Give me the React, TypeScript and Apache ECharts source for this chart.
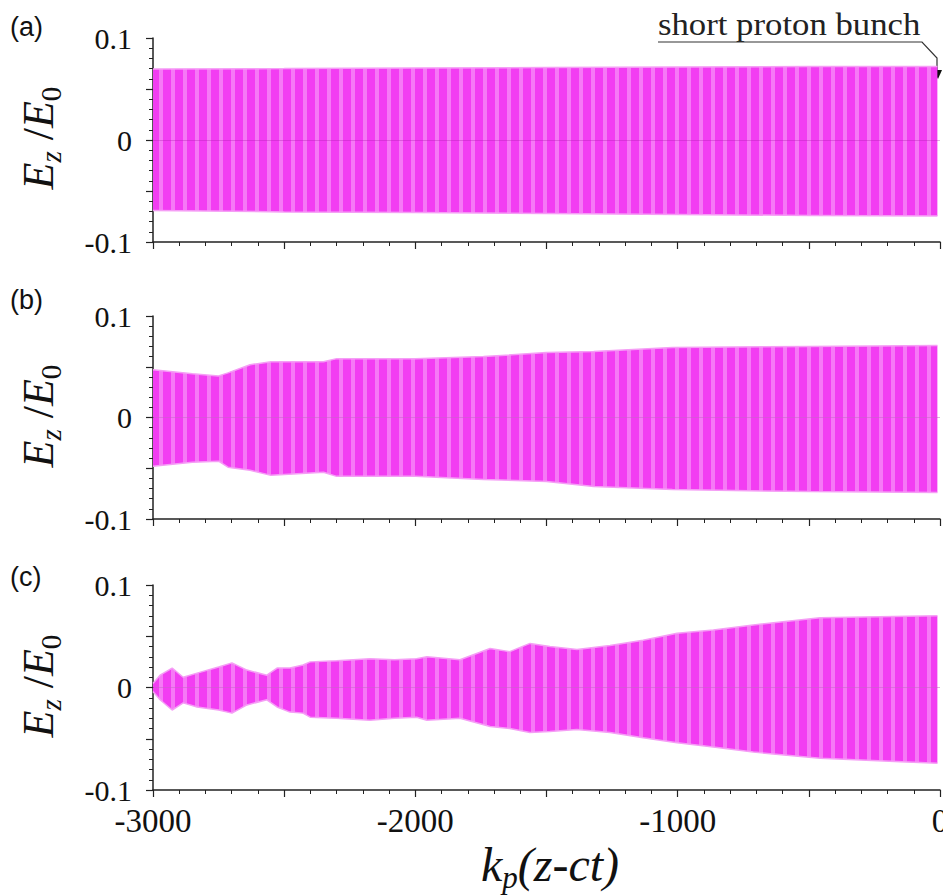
import React, { useEffect, useRef } from "react";
import * as echarts from "echarts";

// ---------- data ----------
// Panel (a): envelope of E_z/E_0
const xA = [-3000, -2500, -2000, -1500, -1000, -500, -10];
const upperA = [0.0696, 0.070, 0.0705, 0.071, 0.0715, 0.072, 0.072];
const lowerA = [-0.069, -0.0705, -0.071, -0.072, -0.073, -0.074, -0.0745];

// Panel (b)
const xB = [-3000, -2850, -2750, -2714, -2630, -2550, -2350, -2300, -2000, -1740, -1500, -1320, -1020, -500, -10];
const upperB = [0.047, 0.043, 0.041, 0.044, 0.052, 0.055, 0.055, 0.058, 0.058, 0.060, 0.064, 0.065, 0.069, 0.070, 0.071];
const lowerB = [-0.048, -0.044, -0.043, -0.049, -0.052, -0.057, -0.054, -0.058, -0.058, -0.061, -0.063, -0.068, -0.071, -0.073, -0.074];

// Panel (c)
const xC = [-3000, -2973, -2927, -2885, -2832, -2750, -2699, -2642, -2566, -2527, -2478, -2428, -2401, -2300, -2173, -2080, -1995, -1956, -1830, -1715, -1640, -1563, -1487, -1384, -1258, -1132, -1002, -864, -712, -457, -10];
const upperC = [0.004, 0.012, 0.019, 0.010, 0.014, 0.020, 0.024, 0.017, 0.012, 0.019, 0.019, 0.022, 0.025, 0.026, 0.028, 0.027, 0.028, 0.030, 0.027, 0.038, 0.035, 0.043, 0.040, 0.037, 0.041, 0.046, 0.053, 0.056, 0.061, 0.068, 0.070];
const lowerC = [-0.004, -0.012, -0.022, -0.015, -0.019, -0.022, -0.025, -0.017, -0.012, -0.019, -0.024, -0.025, -0.029, -0.030, -0.032, -0.030, -0.029, -0.032, -0.030, -0.038, -0.040, -0.044, -0.043, -0.041, -0.044, -0.049, -0.054, -0.058, -0.063, -0.069, -0.074];

// tick labels
const xTickLabels = [-3000, -2000, -1000, 0];
const yTickLabels = [0.1, 0, -0.1];

const panelLabels = ["(a)", "(b)", "(c)"];
const xMin = -3000;
const xMax = 0;
const yMin = -0.1;
const yMax = 0.1;
const annotationText = "short proton bunch";

// ---------- styling ----------
const stripeSvg =
  "<svg xmlns='http://www.w3.org/2000/svg' width='12' height='10'>" +
  "<rect width='12' height='10' fill='#f23df2'/>" +
  "<rect x='3' width='4' height='10' fill='#f9a9f9' opacity='0.55'/>" +
  "</svg>";
const stripeUrl = "data:image/svg+xml;charset=utf-8," + encodeURIComponent(stripeSvg);

const grids = [
  { left: 153, right: 3, top: 38, height: 204 },
  { left: 153, right: 3, top: 316, height: 203 },
  { left: 153, right: 3, top: 585, height: 205 },
];
const panelLabelY = [27, 300, 577];

const SERIF = "Liberation Serif";
const SANS = "Liberation Sans";

function pairs(xs: number[], ys: number[]) {
  return xs.map((x, i) => [x, ys[i]]);
}

export default function App() {
  const ref = useRef<HTMLDivElement>(null);

  useEffect(() => {
    if (!ref.current) return;
    const chart = echarts.init(ref.current, undefined, { renderer: "svg" });
    const pattern: any = {
      image: stripeUrl,
      repeat: "repeat",
      imageWidth: 12,
      imageHeight: 10,
    };

    const panels = [
      { x: xA, up: upperA, lo: lowerA },
      { x: xB, up: upperB, lo: lowerB },
      { x: xC, up: upperC, lo: lowerC },
    ];

    const xAxes = grids.map((_, i) => ({
      type: "value",
      gridIndex: i,
      min: xMin,
      max: xMax,
      interval: 500,
      axisLine: { show: true, onZero: false, lineStyle: { color: "#222", width: 1.5 } },
      axisTick: { show: true, length: 7, lineStyle: { color: "#222", width: 1.2 } },
      minorTick: { show: true, splitNumber: 5, length: 4, lineStyle: { color: "#222", width: 1 } },
      splitLine: { show: false },
      minorSplitLine: { show: false },
      axisLabel: { show: false },
    }));

    const yAxes = grids.map((_, i) => ({
      type: "value",
      gridIndex: i,
      min: yMin,
      max: yMax,
      interval: 0.05,
      axisLine: { show: true, onZero: false, lineStyle: { color: "#222", width: 1.5 } },
      axisTick: { show: true, length: 7, lineStyle: { color: "#222", width: 1.2 } },
      minorTick: { show: true, splitNumber: 5, length: 4, lineStyle: { color: "#222", width: 1 } },
      splitLine: { show: false },
      minorSplitLine: { show: false },
      axisLabel: { show: false },
    }));

    const series: any[] = [];
    panels.forEach((p, i) => {
      [p.up, p.lo].forEach((vals, k) => {
        series.push({
          type: "line",
          name: `panel${i}-${k}`,
          xAxisIndex: i,
          yAxisIndex: i,
          data: pairs(p.x, vals),
          showSymbol: false,
          symbol: "none",
          lineStyle: { color: "#f59ef5", width: 1.5 },
          areaStyle: { color: pattern, opacity: 1, origin: 0 },
          silent: true,
          z: 2,
          markLine:
            k === 0
              ? {
                  silent: true,
                  symbol: "none",
                  label: { show: false },
                  lineStyle: { color: "#b01cb0", width: 1, type: "solid", opacity: 0.35 },
                  data: [{ yAxis: 0 }],
                }
              : undefined,
        });
      });
    });

    const yTitle = (cy: number) => ({
      type: "text",
      x: 38,
      y: cy,
      rotation: Math.PI / 2,
      style: {
        text: "{e|E}{s|z}{r| /}{e|E}{n|0}",
        align: "center",
        verticalAlign: "middle",
        rich: {
          e: { fontFamily: SERIF, fontStyle: "italic", fontSize: 44, lineHeight: 54, verticalAlign: "middle", fill: "#111" },
          r: { fontFamily: SERIF, fontSize: 44, lineHeight: 54, verticalAlign: "middle", fill: "#111" },
          s: { fontFamily: SERIF, fontStyle: "italic", fontSize: 29, lineHeight: 54, verticalAlign: "bottom", fill: "#111" },
          n: { fontFamily: SERIF, fontSize: 29, lineHeight: 54, verticalAlign: "bottom", fill: "#111" },
        },
      },
    });

    const graphic: any[] = [
      ...panelLabels.map((t, i) => ({
        type: "text",
        x: 10,
        y: panelLabelY[i],
        style: {
          text: `{l|${t}}`,
          verticalAlign: "middle",
          rich: { l: { fontFamily: SANS, fontSize: 27, fill: "#111" } },
        },
      })),
      yTitle(138),
      yTitle(416),
      yTitle(686),
      {
        type: "text",
        x: 550,
        y: 864,
        style: {
          text: "{k|k}{p|p}{k|(z-ct)}",
          align: "center",
          verticalAlign: "middle",
          rich: {
            k: { fontFamily: SERIF, fontStyle: "italic", fontSize: 48, lineHeight: 58, verticalAlign: "middle", fill: "#111" },
            p: { fontFamily: SERIF, fontStyle: "italic", fontSize: 31, lineHeight: 58, verticalAlign: "bottom", fill: "#111" },
          },
        },
      },
      {
        type: "text",
        x: 658,
        y: 40,
        scaleX: 1.12,
        style: { text: annotationText, fontFamily: SERIF, fontSize: 31, fill: "#222", verticalAlign: "bottom" },
      },
      {
        type: "polyline",
        shape: { points: [[658, 42], [922, 42], [937, 58], [937, 71]] },
        style: { stroke: "#333", lineWidth: 1.2, fill: "none" },
      },
      {
        type: "polygon",
        shape: { points: [[933, 70], [942, 70], [938, 79]] },
        style: { fill: "#111" },
      },
    ];

    chart.setOption({
      animation: false,
      backgroundColor: "#ffffff",
      grid: grids,
      xAxis: xAxes,
      yAxis: yAxes,
      series,
      graphic,
    });

    // tick labels placed through the axes' own scales
    const tickTexts: any[] = [];
    grids.forEach((_, i) => {
      yTickLabels.forEach((v) => {
        const pt = chart.convertToPixel({ gridIndex: i } as any, [xMin, v]) as number[];
        tickTexts.push({
          type: "text",
          x: pt[0] - 21,
          y: pt[1],
          style: {
            text: `{t|${v === 0 ? "0" : String(v)}}`,
            align: "right",
            verticalAlign: "middle",
            rich: { t: { fontFamily: SERIF, fontStyle: "normal", fontSize: 30, fill: "#111" } },
          },
        });
      });
    });
    xTickLabels.forEach((v) => {
      const pt = chart.convertToPixel({ gridIndex: 2 } as any, [v, yMin]) as number[];
      tickTexts.push({
        type: "text",
        x: pt[0],
        y: pt[1] + 14,
        style: {
          text: `{t|${String(v)}}`,
          align: "center",
          verticalAlign: "top",
          rich: { t: { fontFamily: SERIF, fontStyle: "normal", fontSize: 33, fill: "#111" } },
        },
      });
    });

    chart.setOption({ graphic: [...graphic, ...tickTexts] });

    return () => chart.dispose();
  }, []);

  return (
    <div
      ref={ref}
      style={{ position: "fixed", left: 0, top: 0, width: 943, height: 896, background: "#fff" }}
    />
  );
}
